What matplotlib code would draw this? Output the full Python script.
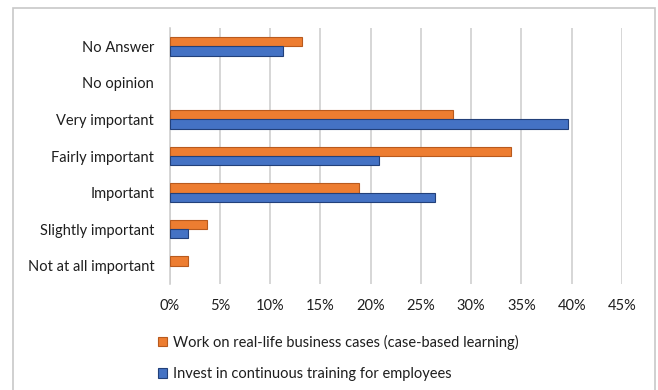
import matplotlib
matplotlib.use("Agg")
import matplotlib.pyplot as plt
import numpy as np
from matplotlib.patches import Rectangle, Patch

categories = ["No Answer", "No opinion", "Very important", "Fairly important",
              "Important", "Slightly important", "Not at all important"]
case_based = [13.2, 0.0, 28.2, 34.0, 18.8, 3.7, 1.8]
training = [11.3, 0.0, 39.6, 20.8, 26.4, 1.8, 0.0]
x_ticks = [0, 5, 10, 15, 20, 25, 30, 35, 40, 45]
series_names = ["Work on real-life business cases (case-based learning)",
                "Invest in continuous training for employees"]

plt.rcParams['font.family'] = ['Lato', 'DejaVu Sans']
plt.rcParams['font.size'] = 10.5
text_color = "#1E1E1E"

fig = plt.figure(figsize=(6.58, 3.9), dpi=100)
ax = fig.add_axes([0.2576, 0.2718, 0.6877, 0.6564])

y = np.arange(len(categories))
h = 0.254
orange, orange_edge = "#ED7D31", "#B85A1E"
blue, blue_edge = "#4472C4", "#22407A"


def edge_widths(values):
    # no outline on empty bars
    return [0.8 if v > 0 else 0.0 for v in values]


ax.barh(y - h / 2, case_based, height=h, color=orange, edgecolor=orange_edge,
        linewidth=edge_widths(case_based), zorder=3)
ax.barh(y + h / 2, training, height=h, color=blue, edgecolor=blue_edge,
        linewidth=edge_widths(training), zorder=3)

ax.set_xlim(0, 45)
ax.set_ylim(len(categories) - 0.5, -0.5)
ax.set_xticks(x_ticks)
ax.set_xticklabels([f"{t}%" for t in x_ticks], color=text_color)
ax.set_yticks(y)
ax.set_yticklabels(categories, color=text_color)
ax.tick_params(axis="both", length=0)
ax.tick_params(axis="x", pad=11)
ax.tick_params(axis="y", pad=11)
ax.grid(axis="x", color="#D0D0D0", linewidth=1.2, zorder=0)
for side in ["top", "right", "bottom"]:
    ax.spines[side].set_visible(False)
ax.spines["left"].set_color("#D0D0D0")
ax.spines["left"].set_linewidth(1.2)

handles = [Patch(facecolor=orange, edgecolor=orange_edge, linewidth=0.8),
           Patch(facecolor=blue, edgecolor=blue_edge, linewidth=0.8)]
fig.legend(handles, series_names, loc="upper left",
           bbox_to_anchor=(0.24, 0.142), frameon=False,
           handlelength=0.6, handleheight=0.6, handletextpad=0.45,
           labelspacing=1.2, borderaxespad=0, borderpad=0,
           labelcolor=text_color)

# outer chart border
fig.patches.append(Rectangle((0.0198, -0.05), 0.9756, 1.0295,
                             transform=fig.transFigure, fill=False,
                             edgecolor="#C8C8C8", linewidth=1.2))

fig.savefig("out.png", dpi=100)
